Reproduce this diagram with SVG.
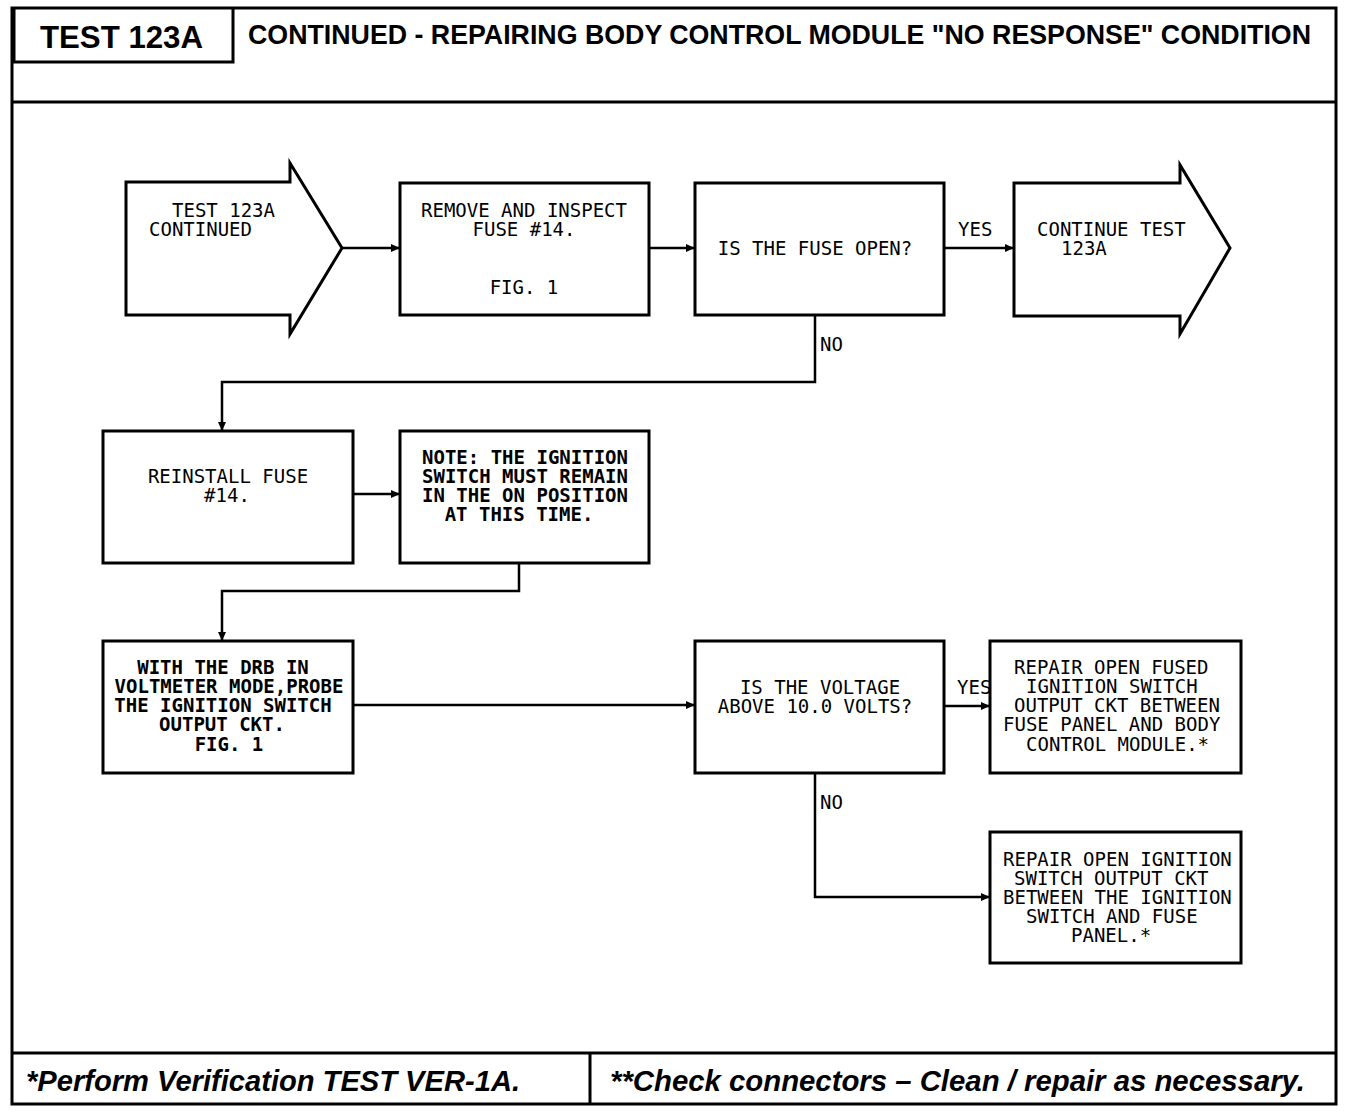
<svg xmlns="http://www.w3.org/2000/svg" width="1360" height="1112" viewBox="0 0 1360 1112">
<defs>
<marker id="arr" markerUnits="userSpaceOnUse" markerWidth="10" markerHeight="8" refX="9" refY="4" orient="auto">
<path d="M0,0 L9,4 L0,8 Z" fill="#000"/>
</marker>
<style>
.frame{fill:none;stroke:#000;stroke-width:3}
.box{fill:#fff;stroke:#000;stroke-width:3}
.conn{fill:none;stroke:#000;stroke-width:2.5}
.t{font-family:"DejaVu Sans Mono","Liberation Mono",monospace;font-size:19px;fill:#000}
.h{font-weight:bold}
.hd{font-family:"Liberation Sans",Arial,sans-serif;font-weight:bold;fill:#000}
.ft{font-family:"Liberation Sans",Arial,sans-serif;font-weight:bold;font-style:italic;fill:#000}
</style>
</defs>
<rect width="1360" height="1112" fill="#fff"/>
<g id="frame">
<rect class="frame" x="12" y="8" width="1324" height="1096"/>
<polyline class="frame" points="14,8 14,62 233,62 233,8"/>
<line class="frame" x1="12" y1="102" x2="1336" y2="102"/>
<line class="frame" x1="12" y1="1053" x2="1336" y2="1053"/>
<line class="frame" x1="590" y1="1053" x2="590" y2="1104"/>
<text class="hd" x="40" y="48" font-size="31" textLength="163" lengthAdjust="spacingAndGlyphs">TEST 123A</text>
<text class="hd" x="248" y="44" font-size="28" textLength="1063" lengthAdjust="spacingAndGlyphs">CONTINUED -  REPAIRING BODY CONTROL MODULE "NO RESPONSE" CONDITION</text>
<text class="ft" x="26" y="1091" font-size="29" textLength="494" lengthAdjust="spacingAndGlyphs">*Perform Verification TEST VER-1A.</text>
<text class="ft" x="610" y="1091" font-size="29" textLength="695" lengthAdjust="spacingAndGlyphs">**Check connectors – Clean / repair as necessary.</text>
</g>
<g id="connectors">
<line class="conn" x1="342" y1="248" x2="400" y2="248" marker-end="url(#arr)"/>
<line class="conn" x1="649" y1="248" x2="695" y2="248" marker-end="url(#arr)"/>
<line class="conn" x1="944" y1="248" x2="1014" y2="248" marker-end="url(#arr)"/>
<text class="t" x="958" y="236">YES</text>
<polyline class="conn" points="815,315 815,382 222,382 222,431" marker-end="url(#arr)"/>
<text class="t" x="820" y="351">NO</text>
<line class="conn" x1="353" y1="494" x2="400" y2="494" marker-end="url(#arr)"/>
<polyline class="conn" points="519,563 519,591 222,591 222,641" marker-end="url(#arr)"/>
<line class="conn" x1="353" y1="705" x2="695" y2="705" marker-end="url(#arr)"/>
<line class="conn" x1="944" y1="706" x2="990" y2="706" marker-end="url(#arr)"/>
<text class="t" x="957" y="694">YES</text>
<polyline class="conn" points="815,773 815,897 990,897" marker-end="url(#arr)"/>
<text class="t" x="820" y="809">NO</text>
</g>
<g id="n1">
<polygon class="box" points="126,182 290,182 290,163 342,248 290,334 290,315 126,315"/>
<text class="t" x="172" y="217">TEST 123A</text>
<text class="t" x="149" y="236">CONTINUED</text>
</g>
<g id="n2">
<rect class="box" x="400" y="183" width="249" height="132"/>
<text class="t" x="524" y="217" text-anchor="middle">REMOVE AND INSPECT</text>
<text class="t" x="524" y="236" text-anchor="middle">FUSE #14.</text>
<text class="t" x="524" y="294" text-anchor="middle">FIG. 1</text>
</g>
<g id="n3">
<rect class="box" x="695" y="183" width="249" height="132"/>
<text class="t" x="815" y="255" text-anchor="middle">IS THE FUSE OPEN?</text>
</g>
<g id="n4">
<polygon class="box" points="1014,183 1180,183 1180,165 1230,248 1180,334 1180,316 1014,316"/>
<text class="t" x="1037" y="236">CONTINUE TEST</text>
<text class="t" x="1061" y="255">123A</text>
</g>
<g id="n5">
<rect class="box" x="103" y="431" width="250" height="132"/>
<text class="t" x="228" y="483" text-anchor="middle">REINSTALL FUSE</text>
<text class="t" x="227" y="502" text-anchor="middle">#14.</text>
</g>
<g id="n6">
<rect class="box" x="400" y="431" width="249" height="132"/>
<text class="t h" x="525" y="464" text-anchor="middle">NOTE: THE IGNITION</text>
<text class="t h" x="525" y="483" text-anchor="middle">SWITCH MUST REMAIN</text>
<text class="t h" x="525" y="502" text-anchor="middle">IN THE ON POSITION</text>
<text class="t h" x="519" y="521" text-anchor="middle">AT THIS TIME.</text>
</g>
<g id="n7">
<rect class="box" x="103" y="641" width="250" height="132"/>
<text class="t h" x="223" y="674" text-anchor="middle">WITH THE DRB IN</text>
<text class="t h" x="229" y="693" text-anchor="middle">VOLTMETER MODE,PROBE</text>
<text class="t h" x="223" y="712" text-anchor="middle">THE IGNITION SWITCH</text>
<text class="t h" x="222" y="731" text-anchor="middle">OUTPUT CKT.</text>
<text class="t h" x="229" y="751" text-anchor="middle">FIG. 1</text>
</g>
<g id="n8">
<rect class="box" x="695" y="641" width="249" height="132"/>
<text class="t" x="820" y="694" text-anchor="middle">IS THE VOLTAGE</text>
<text class="t" x="815" y="713" text-anchor="middle">ABOVE 10.0 VOLTS?</text>
</g>
<g id="n9">
<rect class="box" x="990" y="641" width="251" height="132"/>
<text class="t" x="1014" y="674">REPAIR OPEN FUSED</text>
<text class="t" x="1026" y="693">IGNITION SWITCH</text>
<text class="t" x="1014" y="712">OUTPUT CKT BETWEEN</text>
<text class="t" x="1003" y="731">FUSE PANEL AND BODY</text>
<text class="t" x="1026" y="751">CONTROL MODULE.*</text>
</g>
<g id="n10">
<rect class="box" x="990" y="832" width="251" height="131"/>
<text class="t" x="1003" y="866">REPAIR OPEN IGNITION</text>
<text class="t" x="1014" y="885">SWITCH OUTPUT CKT</text>
<text class="t" x="1003" y="904">BETWEEN THE IGNITION</text>
<text class="t" x="1026" y="923">SWITCH AND FUSE</text>
<text class="t" x="1071" y="942">PANEL.*</text>
</g>
</svg>
